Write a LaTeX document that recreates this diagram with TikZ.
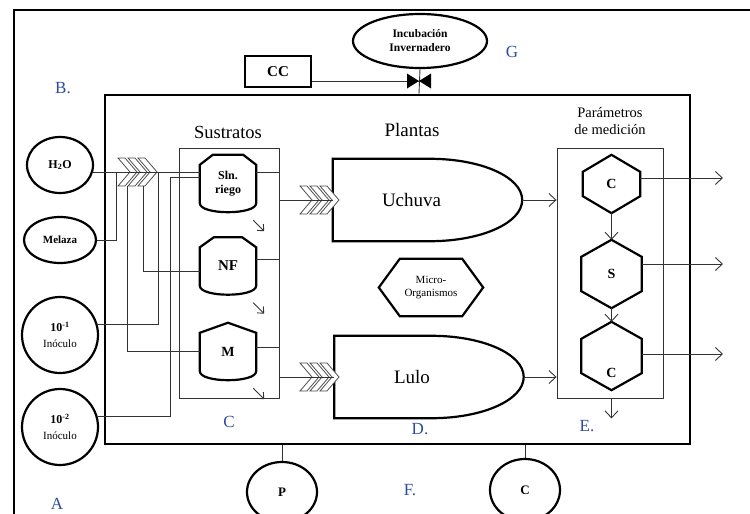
\documentclass[tikz,border=0pt]{standalone}
\usepackage{fontspec}
\setmainfont{Liberation Serif}
\usetikzlibrary{shapes.geometric,arrows.meta}
\definecolor{lblblue}{RGB}{45,75,160}
\tikzset{
  heavy/.style={line width=2.6pt},
  shapeline/.style={line width=2.2pt},
  wire/.style={line width=0.9pt, draw=black!80},
  arr/.style={wire, -{Straight Barb[length=7pt,width=13pt]}},
  smallarr/.style={wire, -{Straight Barb[length=5pt,width=9pt]}},
  chev/.style={line width=0.8pt, draw=black!70, fill=white},
  src/.style={ellipse, draw, line width=2.2pt, inner sep=0pt, align=center, font=\bfseries\fontsize{12}{14}\selectfont},
  tankbox/.style={minimum width=56, minimum height=57, inner sep=0pt, align=center, font=\bfseries\fontsize{12}{14}\selectfont},
  hexbox/.style={minimum width=60, minimum height=68, inner sep=0pt, font=\bfseries\fontsize{14}{14}\selectfont},
  plant/.style={minimum width=189, minimum height=82, inner sep=0pt, align=left, font=\fontsize{19}{19}\selectfont},
  tag/.style={text=lblblue, inner sep=0pt, font=\fontsize{17}{17}\selectfont},
}
\begin{document}
\begin{tikzpicture}[x=1pt, y=-1pt]
\useasboundingbox (0,0) rectangle (750,514);
\clip (0,0) rectangle (750,514);

% frames
\draw[heavy] (14,514) |- (750,10);
\node[draw, heavy, inner sep=0pt, minimum width=585, minimum height=349] (inner) at (397.5,269.5) {};

% top
\node[draw, line width=2pt, minimum width=66, minimum height=31, font=\bfseries\fontsize{15}{15}\selectfont] (cc) at (278,71.5) {CC};
\node[src, minimum width=134, minimum height=54, font=\bfseries\fontsize{11.5}{14}\selectfont] (inc) at (420,41) {Incubación\\Invernadero};
\coordinate (valve) at (419,81);
\draw[wire] (cc.east |- valve) -- (valve);
\draw[wire] (inc.south) -- (valve |- inner.north);
\fill (valve) -- ++(-12,-7.5) -- ++(0,15) -- cycle
      (valve) -- ++(12,-7.5) -- ++(0,15) -- cycle;

% sources
\node[src, minimum width=66, minimum height=56] (h2o) at (60,165) {H\textsubscript{2}O};
\node[src, minimum width=72, minimum height=46, font=\bfseries\fontsize{11}{13}\selectfont] (mel) at (60,240) {Melaza};
\node[src, circle, minimum size=76] (in1) at (60,335) {10\textsuperscript{-1}\\[2pt]{\mdseries\fontsize{11}{13}\selectfont Inóculo}};
\node[src, circle, minimum size=76] (in2) at (60,427) {10\textsuperscript{-2}\\[2pt]{\mdseries\fontsize{11}{13}\selectfont Inóculo}};

% sustratos
\node[draw, wire, minimum width=100, minimum height=250] (sus) at (229,273) {};
\node[font=\fontsize{18.5}{18.5}\selectfont] (sustl) at (228,132) {Sustratos};
\node[tankbox] (sln) at (228,183.5) {Sln.\\riego};
\node[tankbox, font=\bfseries\fontsize{15}{15}\selectfont] (nf) at (228,266) {NF};
\node[tankbox, font=\bfseries\fontsize{14}{14}\selectfont] (mtank) at (228,351.5) {M};
\foreach \t/\r in {sln/13,nf/14,mtank/28}
  \draw[shapeline] ([yshift=-10pt]\t.north west) -- ([xshift=\r]\t.north west) -- ([xshift=-\r]\t.north east) -- ([yshift=-10pt]\t.north east)
    -- ([yshift=9pt]\t.south east) .. controls ([yshift=-3pt]\t.south east) and ([yshift=-3pt]\t.south west) .. ([yshift=9pt]\t.south west) -- cycle;

% plantas
\node[font=\fontsize{19}{19}\selectfont] (plantl) at (412,130) {Plantas};
\node[plant, text width=91] (uch) at (427.5,200) {Uchuva};
\node[plant, text width=70] (lulo) at (429,377) {Lulo};
\foreach \p in {uch,lulo}
  \draw[shapeline] (\p.north west) -- ([xshift=-92]\p.north east) .. controls ([xshift=-41]\p.north east) and ([yshift=23]\p.east) .. (\p.east)
    .. controls ([yshift=-23]\p.east) and ([xshift=-41]\p.south east) .. ([xshift=-92]\p.south east) -- (\p.south west) -- cycle;

\node[font=\fontsize{11}{12.5}\selectfont, align=center, inner sep=0pt, minimum width=104, minimum height=57] (micro) at (431,287.5) {Micro-\\Organismos};
\draw[shapeline] (micro.west) -- ([xshift=21]micro.north west) -- ([xshift=-21]micro.north east) -- (micro.east)
  -- ([xshift=-21]micro.south east) -- ([xshift=21]micro.south west) -- cycle;

% parametros
\node[draw, wire, minimum width=106, minimum height=250] (par) at (610,273) {};
\node[font=\fontsize{14.5}{17}\selectfont, align=center] (parl) at (610,121) {Parámetros\\de medición};
\node[hexbox, minimum width=57, minimum height=58] (c1) at (611.5,184) {C};
\node[hexbox] (s) at (611.5,274) {S};
\node[hexbox, text height=42pt, text depth=0pt] (c2) at (611.5,356) {C};
\foreach \h in {c1,s,c2}
  \draw[shapeline] (\h.north) -- ([yshift=-17]\h.north east) -- ([yshift=17]\h.south east) -- (\h.south)
    -- ([yshift=17]\h.south west) -- ([yshift=-17]\h.north west) -- cycle;

% chevrons
\foreach \cx/\cy in {118/172,300/200,300/377}
  \foreach \i in {0,1,2}
    \draw[chev] (\cx+10*\i,\cy-14) -- ++(7,0) -- ++(12,14) -- ++(-12,14) -- ++(-7,0) -- ++(12,-14) -- cycle;

% feed lines
\coordinate (b0) at (116,172);
\coordinate (b1) at (127,186);
\coordinate (b2) at (143,186);
\coordinate (b3) at (158,172);
\coordinate (b4) at (170,177);
\draw[wire] (h2o.-12) -- (h2o.-12 -| sln.west);
\draw[wire] (mel.east) -| (b0);
\draw[wire] (b1) |- (mtank.west);
\draw[wire] (b2) |- ([yshift=-5pt]nf.west);
\draw[wire] (b3) |- (in1.15);
\draw[wire] (in2.15) -| (b4) -- (b4 -| sln.west);

\foreach \t/\s in {sln/11,nf/7,mtank/4}
  \draw[wire] ([yshift=\s]\t.east) -- ([yshift=\s]\t.east -| sus.east);
\foreach \t in {sln,nf,mtank}
  \draw[smallarr] ([xshift=-3,yshift=-8]\t.south east) -- ++(11,11);

\draw[wire] (uch.west -| sus.east) -- (uch.west);
\draw[wire] (lulo.west -| sus.east) -- (lulo.west);
\draw[arr] (uch.east) -- (uch.east -| par.west);
\draw[arr] (lulo.east) -- (lulo.east -| par.west);

% salidas
\coordinate (outx) at (723,0);
\draw[arr] ([yshift=6]c1.east) -- ([yshift=6]c1.east -| outx);
\draw[arr] ([yshift=10]s.east) -- ([yshift=10]s.east -| outx);
\draw[arr] ([yshift=2]c2.east) -- ([yshift=2]c2.east -| outx);
\draw[arr] (c1.south) -- (s.north);
\draw[arr] (s.south) -- (c2.north);
\draw[arr] (c2.south |- par.south) -- ++(0,20);

% bottom
\node[src, minimum width=70, minimum height=60, font=\bfseries\fontsize{13}{13}\selectfont] (pp) at (282,492) {P};
\node[src, minimum width=70, minimum height=62, font=\bfseries\fontsize{13}{13}\selectfont] (cb) at (525,490) {C};
\draw[wire] (inner.south -| pp.north) -- (pp.north);
\draw[wire] (inner.south -| cb.north) -- (cb.north);

% letters
\node[tag] (tagA) at (57,504) {A};
\node[tag] (tagB) at (63,88) {B.};
\node[tag] (tagC) at (229,422) {C};
\node[tag] (tagD) at (420,429) {D.};
\node[tag] (tagE) at (587,426) {E.};
\node[tag] (tagF) at (410,490) {F.};
\node[tag] (tagG) at (512,52) {G};
\end{tikzpicture}
\end{document}
